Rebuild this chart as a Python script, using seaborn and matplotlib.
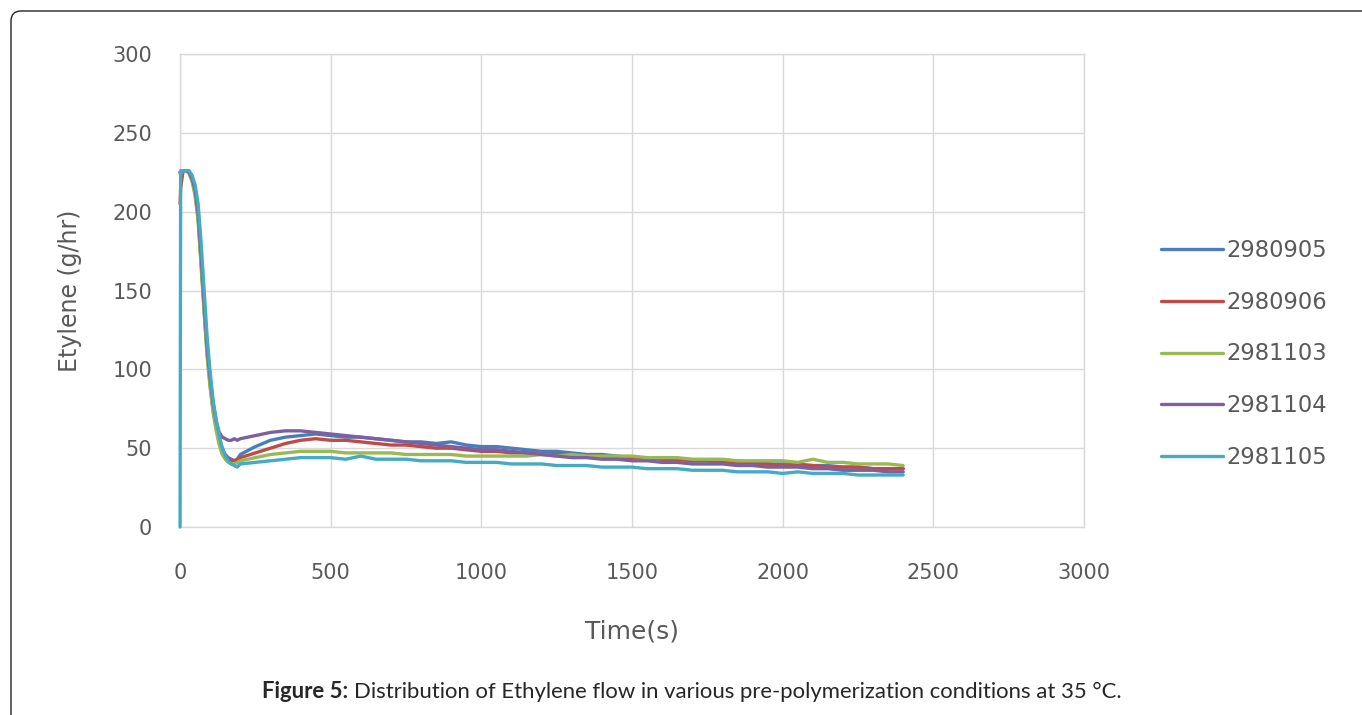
import pandas as pd
import matplotlib.pyplot as plt
import matplotlib.patches as mpatches
from matplotlib.transforms import IdentityTransform
import seaborn as sns

# === data ===
time_s = [0, 2, 10, 20, 30, 40, 50, 60, 70, 80, 90, 100, 110, 120, 130, 140, 150, 160, 170, 180, 190,
          200, 250, 300, 350, 400, 450, 500, 550, 600, 650, 700, 750, 800, 850, 900, 950,
          1000, 1050, 1100, 1150, 1200, 1250, 1300, 1350, 1400, 1450, 1500, 1550, 1600, 1650,
          1700, 1750, 1800, 1850, 1900, 1950, 2000, 2050, 2100, 2150, 2200, 2250, 2300, 2350, 2400]

run_2980905 = [225, 225, 226, 226, 225, 221, 213, 198, 170, 140, 112, 92, 76, 65, 56, 50, 46, 44, 43, 42, 43,
               46, 51, 55, 57, 58, 59, 58, 57, 57, 56, 55, 54, 54, 53, 54, 52, 51, 51, 50, 49,
               48, 48, 47, 46, 46, 45, 44, 44, 43, 43, 42, 42, 41, 42, 41, 40, 40, 40, 39, 39,
               38, 38, 37, 37, 37]
run_2980906 = [205, 215, 226, 226, 225, 220, 212, 196, 168, 138, 110, 90, 74, 63, 54, 48, 45, 43, 42, 42, 43,
               44, 47, 50, 53, 55, 56, 55, 55, 54, 53, 52, 52, 51, 50, 50, 49, 48, 48, 47, 47,
               46, 46, 46, 45, 45, 44, 44, 44, 43, 43, 42, 42, 41, 41, 40, 40, 39, 39, 39, 38,
               38, 38, 37, 37, 37]
run_2981103 = [224, 224, 226, 226, 224, 219, 210, 194, 165, 135, 108, 88, 72, 61, 52, 46, 43, 41, 40, 40, 41,
               42, 44, 46, 47, 48, 48, 48, 47, 47, 47, 47, 46, 46, 46, 46, 45, 45, 45, 45, 45,
               46, 45, 46, 45, 45, 45, 45, 44, 44, 44, 43, 43, 43, 42, 42, 42, 42, 41, 43, 41,
               41, 40, 40, 40, 39]
run_2981104 = [225, 225, 226, 226, 225, 221, 214, 199, 172, 142, 114, 94, 78, 67, 60, 57, 56, 55, 55, 56, 55,
               56, 58, 60, 61, 61, 60, 59, 58, 57, 56, 55, 54, 53, 52, 51, 50, 49, 49, 48, 47,
               46, 45, 44, 44, 43, 43, 42, 42, 41, 41, 40, 40, 40, 39, 39, 38, 38, 38, 37, 37,
               36, 36, 36, 35, 35]
run_2981105 = [0, 226, 226, 226, 226, 223, 217, 205, 180, 150, 120, 98, 80, 68, 58, 50, 45, 42, 40, 39, 38,
               40, 41, 42, 43, 44, 44, 44, 43, 45, 43, 43, 43, 42, 42, 42, 41, 41, 41, 40, 40,
               40, 39, 39, 39, 38, 38, 38, 37, 37, 37, 36, 36, 36, 35, 35, 35, 34, 35, 34, 34,
               34, 33, 33, 33, 33]

runs = ["2980905", "2980906", "2981103", "2981104", "2981105"]
colors = ["#4A7EBB", "#BE4B48", "#98B954", "#7D60A0", "#46AAC5"]

frames = []
for name, vals in zip(runs, [run_2980905, run_2980906, run_2981103, run_2981104, run_2981105]):
    frames.append(pd.DataFrame({"Time": time_s, "Flow": vals, "Run": name}))
df = pd.concat(frames, ignore_index=True)

# === plot ===
sns.set_style("white")
plt.rcParams["font.family"] = ["DejaVu Sans"]
grey = "#595959"
gridc = "#d9d9d9"

fig = plt.figure(figsize=(13.62, 7.15), dpi=100)
ax = fig.add_axes([0.1322, 0.2629, 0.6637, 0.6616])

sns.lineplot(data=df, x="Time", y="Flow", hue="Run", hue_order=runs,
             palette=colors, linewidth=2.4, ax=ax, sort=False)
for ln in ax.get_lines():
    ln.set_clip_on(False)
    ln.set_zorder(3)

ax.set_xlim(0, 3000)
ax.set_ylim(0, 300)
ax.set_xticks(range(0, 3001, 500))
ax.set_yticks(range(0, 301, 50))
ax.grid(True, color=gridc, linewidth=1)
ax.set_axisbelow(True)
for s in ax.spines.values():
    s.set_color(gridc)
    s.set_linewidth(1)
ax.tick_params(length=0, labelsize=15, colors=grey)
ax.tick_params(axis="x", pad=26)
ax.tick_params(axis="y", pad=20)

ax.set_xlabel("Time(s)", fontsize=18, color=grey)
ax.set_ylabel("Etylene (g/hr)", fontsize=17, color=grey)
ax.xaxis.set_label_coords(0.5, -0.195)
ax.yaxis.set_label_coords(-0.108, 0.5)

handles, labels = ax.get_legend_handles_labels()
ax.legend(handles, labels, frameon=False, fontsize=16.3, labelcolor=grey,
          loc="center left", bbox_to_anchor=(1143 / 1362, 1 - 354 / 715),
          bbox_transform=fig.transFigure, handlelength=2.75, handletextpad=0.15,
          labelspacing=1.27, borderpad=0.3)

# rounded frame around the figure panel
frame = mpatches.FancyBboxPatch((11, -60), 1420, 715 - 11 + 60,
                                boxstyle="round,pad=0,rounding_size=10",
                                transform=IdentityTransform(), fill=False,
                                edgecolor="#222222", linewidth=1)
fig.patches.append(frame)

fig.text(348 / 1362, 1 - 692 / 715, "Figure 5:", ha="right", va="center",
         fontsize=15.9, fontweight="bold", family=["Lato", "DejaVu Sans"])
fig.text(354 / 1362, 1 - 692 / 715,
         "Distribution of Ethylene flow in various pre-polymerization conditions at 35 °C.",
         ha="left", va="center", fontsize=15.9, family=["Lato", "DejaVu Sans"])

fig.savefig("out.png", dpi=100)
